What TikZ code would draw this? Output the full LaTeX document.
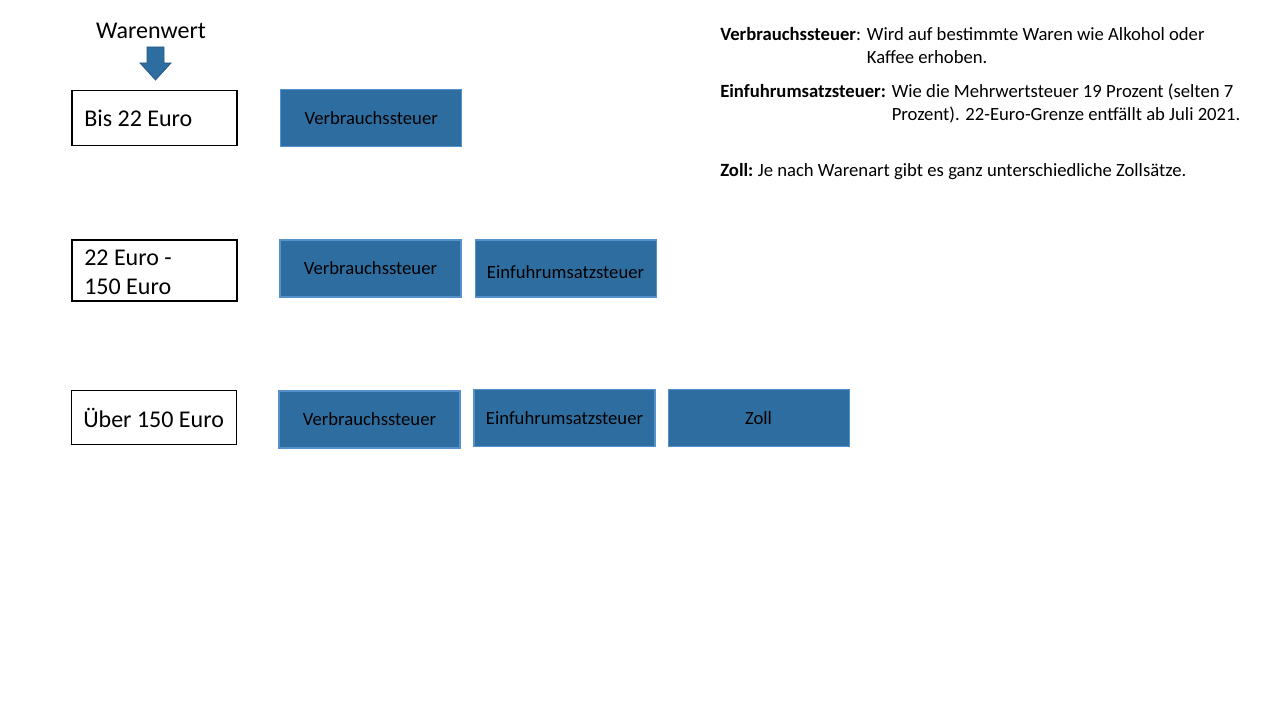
\documentclass[tikz,border=0pt]{standalone}
\usepackage{fontspec}
\setmainfont{Carlito}
\usetikzlibrary{positioning}
\definecolor{taxblue}{RGB}{46,109,160}
\definecolor{taxedge}{RGB}{84,145,205}
\definecolor{arrowedge}{RGB}{40,88,132}

\begin{document}
\begin{tikzpicture}[x=0.75pt, y=-0.75pt,
  valuebox/.style={draw=black, line width=0.8pt, inner sep=0pt, minimum width=123.75pt, minimum height=41pt, font=\fontsize{18}{22}\selectfont},
  taxbox/.style={draw=taxedge, fill=taxblue, line width=0.8pt, inner sep=0pt, minimum width=135.75pt, minimum height=42.75pt, font=\fontsize{14}{17}\selectfont},
  deflabel/.style={anchor=base west, inner sep=0pt, font=\fontsize{14}{17}\selectfont},
  deftext/.style={anchor=base west, inner sep=0pt, font=\fontsize{14}{17}\selectfont}]
  \useasboundingbox (0,0) rectangle (1280,720);

  % Input
  \node (ww) [font=\fontsize{18}{22}\selectfont, inner sep=0pt] at (151,31) {Warenwert};
  \draw[fill=taxblue, draw=arrowedge, line width=0.6pt] (147,47) -- (164,47) -- (164,63) -- (171,63) -- (155.5,80) -- (140,63) -- (147,63) -- cycle;

  % Row 1: bis 22 Euro
  \node (r1) [valuebox] at (154.5,118) {};
  \node (r1t) [anchor=west, inner sep=0pt, font=\fontsize{18}{22}\selectfont] at (84,118) {Bis 22 Euro};
  \node (r1a) [taxbox, right=32pt of r1] {Verbrauchssteuer};

  % Row 2: 22 Euro - 150 Euro
  \node (r2) [valuebox, minimum height=45.75pt] at (154.5,270.5) {};
  \node (r2t) [anchor=west, inner sep=0pt, align=left, font=\fontsize{18}{22}\selectfont] at (84,272) {22 Euro -\\150 Euro};
  \node (r2a) [taxbox] at (370.5,268.5) {Verbrauchssteuer};
  \node (r2b) [taxbox, right=9.75pt of r2a] {\raisebox{-3pt}[\height][\depth]{Einfuhrumsatzsteuer}};

  % Row 3: ueber 150 Euro
  \node (r3) [valuebox] at (154,417.5) {};
  \node (r3t) [anchor=west, inner sep=0pt, font=\fontsize{18}{22}\selectfont] at (83,418) {Über 150 Euro};
  \node (r3a) [taxbox] at (369.5,419.5) {Verbrauchssteuer};
  \node (r3b) [taxbox] at (564.5,418) {Einfuhrumsatzsteuer};
  \node (r3c) [taxbox, right=9pt of r3b] {Zoll};

  % Definitions
  \node (vdef) [deflabel] at (720,41) {\textbf{Verbrauchssteuer}:};
  \node (vtxt) [deftext] at ([xshift=4pt]vdef.base east) {Wird auf bestimmte Waren wie Alkohol oder};
  \node (vtxt2) [deftext] at ([yshift=-17.25pt]vtxt.base west) {Kaffee erhoben.};

  \node (edef) [deflabel] at (720,98) {\textbf{Einfuhrumsatzsteuer:}};
  \node (etxt) [deftext] at ([xshift=4pt]edef.base east) {Wie die Mehrwertsteuer 19 Prozent (selten 7};
  \node (etxt2) [deftext] at ([yshift=-17.25pt]etxt.base west) {Prozent). 22-Euro-Grenze entfällt ab Juli 2021.};

  \node (zdef) [deflabel] at (720,177) {\textbf{Zoll:}};
  \node (ztxt) [deftext] at ([xshift=3pt]zdef.base east) {Je nach Warenart gibt es ganz unterschiedliche Zollsätze.};
\end{tikzpicture}
\end{document}
